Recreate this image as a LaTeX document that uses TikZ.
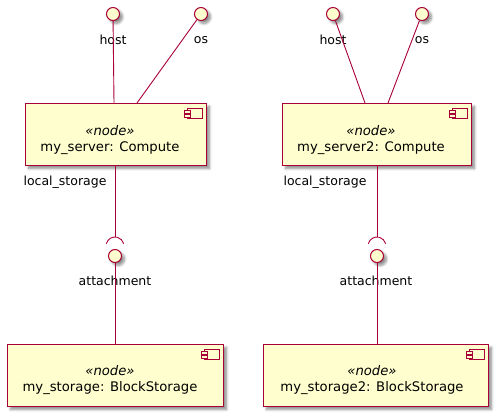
\documentclass[tikz,border=0pt]{standalone}
\usepackage{fontspec}
\setmainfont{DejaVu Sans}
\usetikzlibrary{shadows.blur,calc}
\definecolor{pborder}{HTML}{A80036}
\definecolor{pfill}{HTML}{FEFECE}
\tikzset{
  sh/.style={blur shadow={shadow xshift=3pt,shadow yshift=-3pt,shadow blur steps=6,shadow blur radius=2.5pt,shadow opacity=45}},
  compbox/.style={draw=pborder,fill=pfill,line width=1pt,rectangle,inner sep=0pt,anchor=north west,sh},
  iface/.style={draw=pborder,fill=pfill,line width=1pt,circle,inner sep=0pt,minimum size=13pt,sh},
  conn/.style={draw=pborder,line width=0.9pt},
  lbl/.style={font=\fontsize{12.5}{14}\selectfont,text=black,inner sep=0pt},
  btxt/.style={font=\fontsize{13.2}{16}\selectfont,align=center,inner sep=0pt,text=black},
}
\newcommand{\compicon}[1]{%
  \draw[draw=pborder,fill=pfill,line width=0.9pt] ($(#1.north east)+(-20,5)$) rectangle ($(#1.north east)+(-5,15)$);
  \draw[draw=pborder,fill=pfill,line width=0.9pt] ($(#1.north east)+(-23,7.5)$) rectangle ($(#1.north east)+(-17,10)$);
  \draw[draw=pborder,fill=pfill,line width=0.9pt] ($(#1.north east)+(-23,11.5)$) rectangle ($(#1.north east)+(-17,14)$);
}
\begin{document}
\begin{tikzpicture}[x=1pt,y=-1pt]
\useasboundingbox (0,0) rectangle (501,419);
% ---------- left ----------
\node[compbox,minimum width=181pt,minimum height=62pt] (srv) at (25,103) {};
\compicon{srv}
\node[btxt] (srvtxt) at (110,140) {\textit{«node»}\\my\_server: Compute};
\node[iface] (host) at (113,14) {};
\node[iface] (os) at (201,14) {};
\node[lbl] (hostl) at (113,40) {host};
\node[lbl] (osl) at (201,40) {os};
\coordinate (hostend) at (114,103);
\coordinate (osend) at (137,103);
\draw[conn] (host) -- (hostend);
\draw[conn] (os) -- (osend);
\node[lbl] (lsl) at (65,182) {local\_storage};
\coordinate (srvbot) at (115,165);
\coordinate (sockc) at (115,246);
\coordinate (socktop) at (115,237);
\draw[conn] (srvbot) -- (socktop);
\node[compbox,minimum width=216pt,minimum height=62pt] (sto) at (7,344) {};
\compicon{sto}
\node[btxt] (stotxt) at (110,380) {\textit{«node»}\\my\_storage: BlockStorage};
\node[iface] (att) at (115,256) {};
\draw[conn] ($(sockc)+(195:9)$) arc[start angle=195,end angle=345,radius=9];
\node[lbl] (attl) at (115,281) {attachment};
\coordinate (stotop) at (115,344);
\draw[conn] (att) -- (stotop);
% ---------- right ----------
\node[compbox,minimum width=189pt,minimum height=62pt] (srvb) at (282,103) {};
\compicon{srvb}
\node[btxt] (srvbtxt) at (371,140) {\textit{«node»}\\my\_server2: Compute};
\node[iface] (hostb) at (333,14) {};
\node[iface] (osb) at (422,14) {};
\node[lbl] (hostbl) at (333,40) {host};
\node[lbl] (osbl) at (422,40) {os};
\coordinate (hostbend) at (365,103);
\coordinate (osbend) at (388,103);
\draw[conn] (hostb) -- (hostbend);
\draw[conn] (osb) -- (osbend);
\node[lbl] (lsbl) at (325,182) {local\_storage};
\coordinate (srvbbot) at (377,165);
\coordinate (sockbc) at (377,246);
\coordinate (sockbtop) at (377,237);
\draw[conn] (srvbbot) -- (sockbtop);
\node[compbox,minimum width=225pt,minimum height=62pt] (stob) at (263,344) {};
\compicon{stob}
\node[btxt] (stobtxt) at (372,380) {\textit{«node»}\\my\_storage2: BlockStorage};
\node[iface] (attb) at (377,256) {};
\draw[conn] ($(sockbc)+(195:9)$) arc[start angle=195,end angle=345,radius=9];
\node[lbl] (attbl) at (376,281) {attachment};
\coordinate (stobtop) at (377,344);
\draw[conn] (attb) -- (stobtop);
\end{tikzpicture}
\end{document}
